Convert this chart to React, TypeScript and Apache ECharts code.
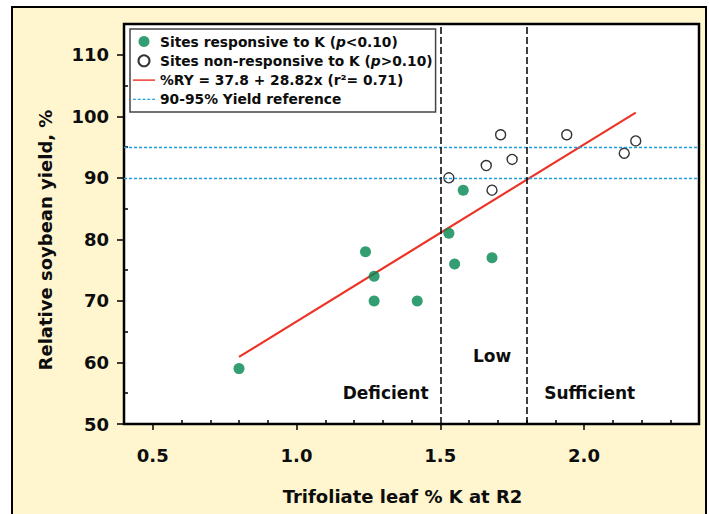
import React, { useEffect, useRef } from "react";
import * as echarts from "echarts";

const responsiveSites: number[][] = [
  [0.8, 59], [1.24, 78], [1.27, 74], [1.27, 70], [1.42, 70],
  [1.53, 81], [1.55, 76], [1.58, 88], [1.68, 77],
];
const nonResponsiveSites: number[][] = [
  [1.53, 90], [1.66, 92], [1.68, 88], [1.71, 97], [1.75, 93],
  [1.94, 97], [2.14, 94], [2.18, 96],
];
const regressionLine: number[][] = [[0.8, 60.9], [2.18, 100.6]];
const referenceLevels = [90, 95];
const boundaries = [1.5, 1.8];
const regionLabels: [number, number, string][] = [
  [1.31, 55, "Deficient"], [1.68, 61, "Low"], [2.02, 55, "Sufficient"],
];
const xMajorTicks = [0.5, 1.0, 1.5, 2.0];
const xMinorTicks = [0.6, 0.7, 0.8, 0.9, 1.1, 1.2, 1.3, 1.4, 1.6, 1.7, 1.8, 1.9, 2.1, 2.2, 2.3];
const yMajorTicks = [50, 60, 70, 80, 90, 100, 110];
const yMinorTicks = [55, 65, 75, 85, 95, 105];

const seriesNames = [
  "Sites responsive to K (p<0.10)",
  "Sites non-responsive to K (p>0.10)",
  "%RY = 37.8 + 28.82x (r²= 0.71)",
  "90-95% Yield reference",
];

const FONT = "'DejaVu Sans', sans-serif";
const BLUE = "#1d9fe0";
const RED = "#ec3325";
const GREEN = "#00864f";
const INK = "#0d0d0d";

export default function App() {
  const ref = useRef<HTMLDivElement>(null);
  useEffect(() => {
    if (!ref.current) return;
    const chart = echarts.init(ref.current, undefined, { renderer: "svg" });
    const axisBase = {
      type: "value" as const,
      splitLine: { show: false },
    };
    chart.setOption({
      animation: false,
      backgroundColor: "transparent",
      textStyle: { fontFamily: FONT },
      grid: {
        left: 124, top: 24, right: 10, bottom: 90,
        outerBoundsMode: "none",
        show: true, backgroundColor: "#fff", borderColor: "#000", borderWidth: 2.5,
      },
      legend: {
        orient: "vertical",
        left: 130, top: 29,
        backgroundColor: "#fff",
        borderColor: "#444",
        borderWidth: 1.5,
        borderRadius: 0,
        padding: [4, 3, 4, 3],
        itemWidth: 22,
        itemHeight: 11,
        itemGap: 2.3,
        data: [
          { name: seriesNames[0], icon: "circle" },
          { name: seriesNames[1], icon: "circle" },
          { name: seriesNames[2], icon: "path://M0,0H20V1.3H0Z" },
          { name: seriesNames[3], icon: "path://M0,0H2.6V1.3H0ZM4.4,0H7V1.3H4.4ZM8.8,0H11.4V1.3H8.8ZM13.2,0H15.8V1.3H13.2ZM17.6,0H20.2V1.3H17.6Z" },
        ],
        textStyle: {
          fontFamily: FONT, fontSize: 13.8, fontWeight: "bold", color: INK, lineHeight: 17,
          rich: {
            i: { fontFamily: FONT, fontSize: 13.8, fontWeight: "bold", fontStyle: "italic", color: INK },
          },
        },
        formatter: (name: string) => name.replace("(p", "({i|p}"),
      },
      xAxis: [
        {
          ...axisBase,
          min: 0.4, max: 2.4,
          axisLine: { lineStyle: { color: "#000", width: 2 } },
          axisTick: { show: true, length: 6, customValues: xMajorTicks, lineStyle: { color: "#000", width: 1.5 } },
          axisLabel: {
            customValues: xMajorTicks, margin: 22,
            formatter: (v: number) => v.toFixed(1),
            fontFamily: FONT, fontSize: 18, fontWeight: "bold", color: INK,
          },
          name: "Trifoliate leaf % K at R2",
          nameLocation: "middle",
          nameGap: 63,
          nameTextStyle: { fontFamily: FONT, fontSize: 18, fontWeight: "bold", color: INK, padding: [0, 18, 0, 0] },
        },
        {
          ...axisBase,
          min: 0.4, max: 2.4, position: "bottom",
          axisLine: { show: false },
          axisTick: { show: true, inside: true, length: 4, customValues: xMinorTicks, lineStyle: { color: "#000", width: 1.5 } },
          axisLabel: { show: false },
        },
      ],
      yAxis: [
        {
          ...axisBase,
          min: 50, max: 115,
          axisLine: { show: true, lineStyle: { color: "#000", width: 2 } },
          axisTick: { show: true, length: 7, customValues: yMajorTicks, lineStyle: { color: "#000", width: 1.5 } },
          axisLabel: {
            customValues: yMajorTicks, margin: 15,
            fontFamily: FONT, fontSize: 18, fontWeight: "bold", color: INK,
          },
          name: "Relative soybean yield, %",
          nameLocation: "middle",
          nameGap: 70,
          nameTextStyle: { fontFamily: FONT, fontSize: 18, fontWeight: "bold", color: INK, padding: [0, 32, 0, 0] },
        },
        {
          ...axisBase,
          min: 50, max: 115, position: "left",
          axisLine: { show: false },
          axisTick: { show: true, inside: true, length: 4, customValues: yMinorTicks, lineStyle: { color: "#000", width: 1.5 } },
          axisLabel: { show: false },
        },
      ],
      series: [
        {
          name: seriesNames[3],
          type: "line",
          data: [],
          symbol: "none",
          lineStyle: { color: BLUE, width: 1.3, type: [3, 2] },
          itemStyle: { color: BLUE },
          markLine: {
            silent: true, symbol: "none", label: { show: false },
            lineStyle: { color: BLUE, width: 1.3, type: [3, 2] },
            data: referenceLevels.map((v) => ({ yAxis: v })),
          },
        },
        {
          name: "boundaries",
          type: "line",
          data: [],
          symbol: "none",
          markLine: {
            silent: true, symbol: "none", label: { show: false },
            lineStyle: { color: "#000", width: 1.5, type: [7, 3] },
            data: boundaries.map((v) => ({ xAxis: v })),
          },
        },
        {
          name: seriesNames[2],
          type: "line",
          data: regressionLine,
          symbol: "none",
          lineStyle: { color: RED, width: 2.2 },
          itemStyle: { color: RED },
          z: 3,
        },
        {
          name: seriesNames[0],
          type: "scatter",
          data: responsiveSites,
          symbol: "circle",
          symbolSize: 11,
          itemStyle: { color: GREEN },
          z: 4,
        },
        {
          name: seriesNames[1],
          type: "scatter",
          data: nonResponsiveSites,
          symbol: "circle",
          symbolSize: 10,
          itemStyle: { color: "#fff", borderColor: "#000", borderWidth: 1.4 },
          z: 4,
        },
        {
          name: "regions",
          type: "scatter",
          data: regionLabels,
          symbolSize: 0,
          silent: true,
          label: {
            show: true, position: "inside",
            formatter: (p: any) => p.data[2],
            fontFamily: FONT, fontSize: 17, fontWeight: "bold", color: INK, opacity: 1,
            textBorderWidth: 0,
          },
        },
      ],
    });
    return () => chart.dispose();
  }, []);
  return (
    <div style={{ position: "fixed", left: 0, top: 0, width: 709, height: 514, background: "#fff", overflow: "hidden" }}>
      <div
        style={{
          position: "absolute", left: 11, top: 6, width: 696, height: 530,
          background: "#fff6d0", border: "2px solid #000", boxSizing: "border-box",
        }}
      />
      <div ref={ref} style={{ position: "absolute", left: 0, top: 0, width: 709, height: 514 }} />
    </div>
  );
}
